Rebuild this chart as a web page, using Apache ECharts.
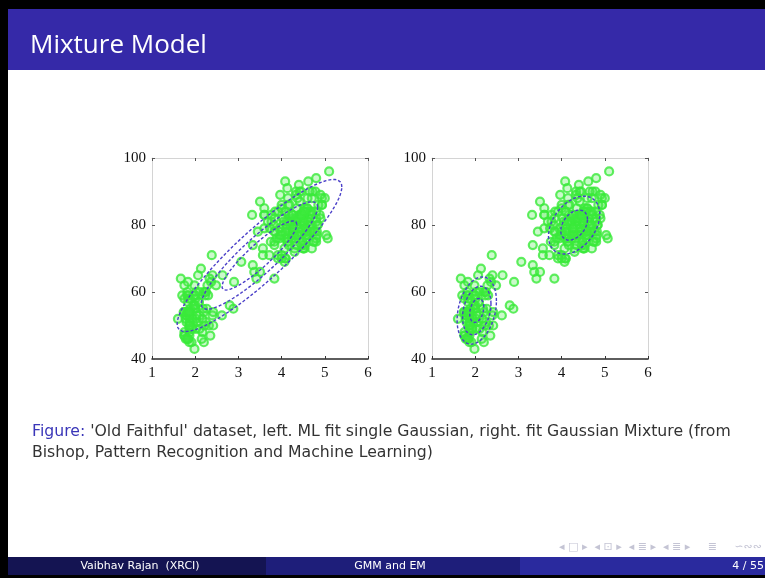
<!DOCTYPE html>
<html>
<head>
<meta charset="utf-8">
<script src="https://cdn.jsdelivr.net/npm/echarts@6/dist/echarts.min.js"></script>
<style>
html, body { margin: 0; padding: 0; background: #ffffff; }
#chart { width: 765px; height: 578px; }
</style>
</head>
<body>
<div id="chart"></div>
<script>
// Old Faithful: eruption duration (min) and waiting time to next eruption (min)
const eruptions = [
  3.600,1.800,3.333,2.283,4.533,2.883,4.700,3.600,1.950,4.350,
  1.833,3.917,4.200,1.750,4.700,2.167,1.750,4.800,1.600,4.250,
  1.800,1.750,3.450,3.067,4.533,3.600,1.967,4.083,3.850,4.433,
  4.300,4.467,3.367,4.033,3.833,2.017,1.867,4.833,1.833,4.783,
  4.350,1.883,4.567,1.750,4.533,3.317,3.833,2.100,4.633,2.000,
  4.800,4.716,1.833,4.833,1.733,4.883,3.717,1.667,4.567,4.317,
  2.233,4.500,1.750,4.800,1.817,4.400,4.167,4.700,2.067,4.700,
  4.033,1.967,4.500,4.000,1.983,5.067,2.017,4.567,3.883,3.600,
  4.133,4.333,4.100,2.633,4.067,4.933,3.950,4.517,2.167,4.000,
  2.200,4.333,1.867,4.817,1.833,4.300,4.667,3.750,1.867,4.900,
  2.483,4.367,2.100,4.500,4.050,1.867,4.700,1.783,4.850,3.683,
  4.733,2.300,4.900,4.417,1.700,4.633,2.317,4.600,1.817,4.417,
  2.617,4.067,4.250,1.967,4.600,3.767,1.917,4.500,2.267,4.650,
  1.867,4.167,2.800,4.333,1.833,4.383,1.883,4.933,2.033,3.733,
  4.233,2.233,4.533,4.817,4.333,1.983,4.633,2.017,5.100,1.800,
  5.033,4.000,2.400,4.600,3.567,4.000,4.500,4.083,1.800,3.967,
  2.200,4.150,2.000,3.833,3.500,4.583,2.367,5.000,1.933,4.617,
  1.917,2.083,4.583,3.333,4.167,4.333,4.500,2.417,4.000,4.167,
  1.883,4.583,4.250,3.767,2.033,4.433,4.083,1.833,4.417,2.183,
  4.800,1.833,4.800,4.100,3.966,4.233,3.500,4.366,2.250,4.667,
  2.100,4.350,4.133,1.867,4.600,1.783,4.367,3.850,1.933,4.500,
  2.383,4.700,1.867,3.833,3.417,4.233,2.400,4.800,2.000,4.150,
  1.867,4.267,1.750,4.483,4.000,4.117,4.083,4.267,3.917,4.550,
  4.083,2.417,4.183,2.217,4.450,1.883,1.850,4.283,3.950,2.333,
  4.150,2.350,4.933,2.900,4.583,3.833,2.083,4.367,2.133,4.350,
  2.200,4.450,3.567,4.500,4.150,3.817,3.917,4.450,2.000,4.283,
  4.767,4.533,1.850,4.250,1.983,2.250,4.750,4.117,2.150,4.417,
  1.817,4.467
];
const waiting = [
  79,54,74,62,85,55,88,85,51,85,
  54,84,78,47,83,52,62,84,52,79,
  51,47,78,69,74,83,55,76,78,79,
  73,77,66,80,74,52,48,80,59,90,
  80,58,84,58,73,83,64,53,82,59,
  75,90,54,80,54,83,71,64,77,81,
  59,84,48,82,60,92,78,78,65,73,
  82,56,79,71,62,76,60,78,76,83,
  75,82,70,65,73,88,76,80,48,86,
  60,90,50,78,63,72,84,75,51,82,
  62,88,49,83,81,47,84,52,86,81,
  75,59,89,79,59,81,50,85,59,87,
  53,69,77,56,88,81,45,82,55,90,
  45,83,56,89,46,82,51,86,53,79,
  81,60,82,77,76,59,80,49,96,53,
  77,77,65,81,71,70,81,93,53,89,
  45,86,58,78,66,76,63,88,52,93,
  49,57,77,68,81,81,73,50,85,74,
  55,77,83,83,51,78,84,46,83,55,
  81,57,76,84,77,81,87,77,51,78,
  60,82,91,53,78,46,77,84,49,83,
  71,80,49,75,64,76,53,94,55,76,
  50,82,54,75,78,79,78,78,70,79,
  70,54,86,50,90,54,54,77,79,64,
  75,47,86,63,85,82,57,82,67,74,
  54,83,73,73,88,80,71,83,56,79,
  78,84,58,83,43,60,75,81,46,90,
  46,74
];

// axis ticks
const xTickValues = [1, 2, 3, 4, 5, 6];
const yTickValues = [40, 60, 80, 100];

// single Gaussian fit: mean, covariance [sxx, sxy, syy], contour radii (Mahalanobis)
const singleMean = [3.4878, 70.897];
const singleCov = [1.3027, 13.978, 184.82];
const singleRadii = [0.76, 1.18, 1.67];

// two-component mixture fit
const mixMeans = [[2.036, 54.48], [4.290, 79.97]];
const mixCovs = [[0.0692, 0.435, 33.70], [0.170, 0.940, 36.05]];
const mixRadii = [[0.62, 1.25, 1.73], [0.75, 1.44]];

// contour of a 2-D Gaussian at Mahalanobis radius r (via Cholesky factor)
function contour(mean, cov, r) {
  const l11 = Math.sqrt(cov[0]);
  const l21 = cov[1] / l11;
  const l22 = Math.sqrt(cov[2] - l21 * l21);
  const pts = [];
  const n = 160;
  for (let i = 0; i <= n; i++) {
    const t = (2 * Math.PI * i) / n;
    const c = Math.cos(t), s = Math.sin(t);
    pts.push([mean[0] + r * l11 * c, mean[1] + r * (l21 * c + l22 * s)]);
  }
  return pts;
}

const points = eruptions.map((e, i) => [e, waiting[i]]);

const chart = echarts.init(document.getElementById('chart'), null, { renderer: 'canvas' });

const labelFont = { fontFamily: 'Liberation Serif', fontSize: 15, color: '#111' };
const grids = [
  { left: 152, top: 158, width: 216, height: 201 },
  { left: 432, top: 158, width: 216, height: 201 }
];

const xAxes = [], yAxes = [];
grids.forEach((g, gi) => {
  xAxes.push({
    gridIndex: gi, type: 'value', position: 'bottom', min: 1, max: 6, interval: 1,
    axisLine: { show: true, onZero: false, lineStyle: { color: '#2a2a2a', width: 1.6 } },
    axisTick: { show: true, inside: true, length: 3, lineStyle: { color: '#333' } },
    axisLabel: Object.assign({ margin: 7, formatter: v => (xTickValues.includes(v) ? String(v) : '') }, labelFont),
    splitLine: { show: false }
  });
  xAxes.push({
    gridIndex: gi, type: 'value', position: 'top', min: 1, max: 6, interval: 1,
    axisLine: { show: true, onZero: false, lineStyle: { color: '#d4d4d4', width: 1 } },
    axisTick: { show: true, inside: true, length: 3, lineStyle: { color: '#555' } },
    axisLabel: { show: false }, splitLine: { show: false }
  });
  yAxes.push({
    gridIndex: gi, type: 'value', position: 'left', min: 40, max: 100, interval: 20,
    axisLine: { show: true, onZero: false, lineStyle: { color: '#d4d4d4', width: 1 } },
    axisTick: { show: true, inside: true, length: 3, lineStyle: { color: '#555' } },
    axisLabel: Object.assign({ margin: 6, formatter: v => (yTickValues.includes(v) ? String(v) : '') }, labelFont),
    splitLine: { show: false }
  });
  yAxes.push({
    gridIndex: gi, type: 'value', position: 'right', min: 40, max: 100, interval: 20,
    axisLine: { show: true, onZero: false, lineStyle: { color: '#d4d4d4', width: 1 } },
    axisTick: { show: true, inside: true, length: 3, lineStyle: { color: '#555' } },
    axisLabel: { show: false }, splitLine: { show: false }
  });
});

const pointStyle = {
  color: 'rgba(70,235,70,0.35)',
  borderColor: '#3aea3a',
  borderWidth: 2.2
};
const contourStyle = { color: '#4a3fc8', width: 1.4, type: [3, 2] };

const series = [];
// data points on both panels
[0, 1].forEach(gi => {
  series.push({
    type: 'scatter', xAxisIndex: gi * 2, yAxisIndex: gi * 2,
    data: points, symbol: 'circle', symbolSize: 8,
    itemStyle: pointStyle, z: 2, silent: true
  });
});
// single Gaussian contours (left)
singleRadii.forEach(r => {
  series.push({
    type: 'line', xAxisIndex: 0, yAxisIndex: 0, data: contour(singleMean, singleCov, r),
    showSymbol: false, symbol: 'none', lineStyle: contourStyle, z: 3, silent: true
  });
});
// mixture component contours (right)
mixMeans.forEach((m, k) => {
  mixRadii[k].forEach(r => {
    series.push({
      type: 'line', xAxisIndex: 2, yAxisIndex: 2, data: contour(m, mixCovs[k], r),
      showSymbol: false, symbol: 'none', lineStyle: contourStyle, z: 3, silent: true
    });
  });
});

const captionRest = " 'Old Faithful' dataset, left. ML fit single Gaussian, right. fit Gaussian Mixture (from";
const captionFont = { fontSize: 15.7, fontFamily: 'DejaVu Sans' };

chart.setOption({
  animation: false,
  backgroundColor: '#ffffff',
  grid: grids,
  xAxis: xAxes,
  yAxis: yAxes,
  series: series,
  graphic: [
    // frame and header bar
    { type: 'rect', shape: { x: 0, y: 0, width: 765, height: 9 }, style: { fill: '#000' }, silent: true },
    { type: 'rect', shape: { x: 0, y: 0, width: 8, height: 578 }, style: { fill: '#000' }, silent: true },
    { type: 'rect', shape: { x: 8, y: 9, width: 757, height: 61 }, style: { fill: '#3529a8' }, silent: true },
    { type: 'text', x: 30, y: 46, style: { text: 'Mixture Model', fill: '#ffffff', font: '26px "Open Sans"', textVerticalAlign: 'middle' }, silent: true },
    // caption
    { type: 'text', x: 32, y: 432, style: Object.assign({
        text: '{f|Figure:}' + captionRest,
        rich: { f: Object.assign({ fill: '#3a36b8' }, captionFont) },
        fill: '#333', textVerticalAlign: 'middle' }, captionFont), silent: true },
    { type: 'text', x: 32, y: 453, style: Object.assign({
        text: 'Bishop, Pattern Recognition and Machine Learning)',
        fill: '#333', textVerticalAlign: 'middle' }, captionFont), silent: true },
    // navigation symbols
    { type: 'text', x: 762, y: 547, style: {
        text: '◂ □ ▸  ◂ ⊡ ▸  ◂ ≣ ▸  ◂ ≣ ▸     ≣     ∽∾∾',
        fill: '#c4c4d4', fontSize: 11, fontFamily: 'DejaVu Sans', textAlign: 'right', textVerticalAlign: 'middle' }, silent: true },
    // footer
    { type: 'rect', shape: { x: 0, y: 557, width: 765, height: 21 }, style: { fill: '#000' }, silent: true },
    { type: 'rect', shape: { x: 8, y: 557, width: 258, height: 18 }, style: { fill: '#141452' }, silent: true },
    { type: 'rect', shape: { x: 266, y: 557, width: 254, height: 18 }, style: { fill: '#1e1e7a' }, silent: true },
    { type: 'rect', shape: { x: 520, y: 557, width: 245, height: 18 }, style: { fill: '#2a2a9e' }, silent: true },
    { type: 'text', x: 140, y: 566, style: { text: 'Vaibhav Rajan  (XRCI)', fill: '#fff', fontSize: 11, fontFamily: 'DejaVu Sans', textAlign: 'center', textVerticalAlign: 'middle' }, silent: true },
    { type: 'text', x: 390, y: 566, style: { text: 'GMM and EM', fill: '#fff', fontSize: 11, fontFamily: 'DejaVu Sans', textAlign: 'center', textVerticalAlign: 'middle' }, silent: true },
    { type: 'text', x: 764, y: 566, style: { text: '4 / 55', fill: '#fff', fontSize: 11, fontFamily: 'DejaVu Sans', textAlign: 'right', textVerticalAlign: 'middle' }, silent: true }
  ]
});
</script>
</body>
</html>
